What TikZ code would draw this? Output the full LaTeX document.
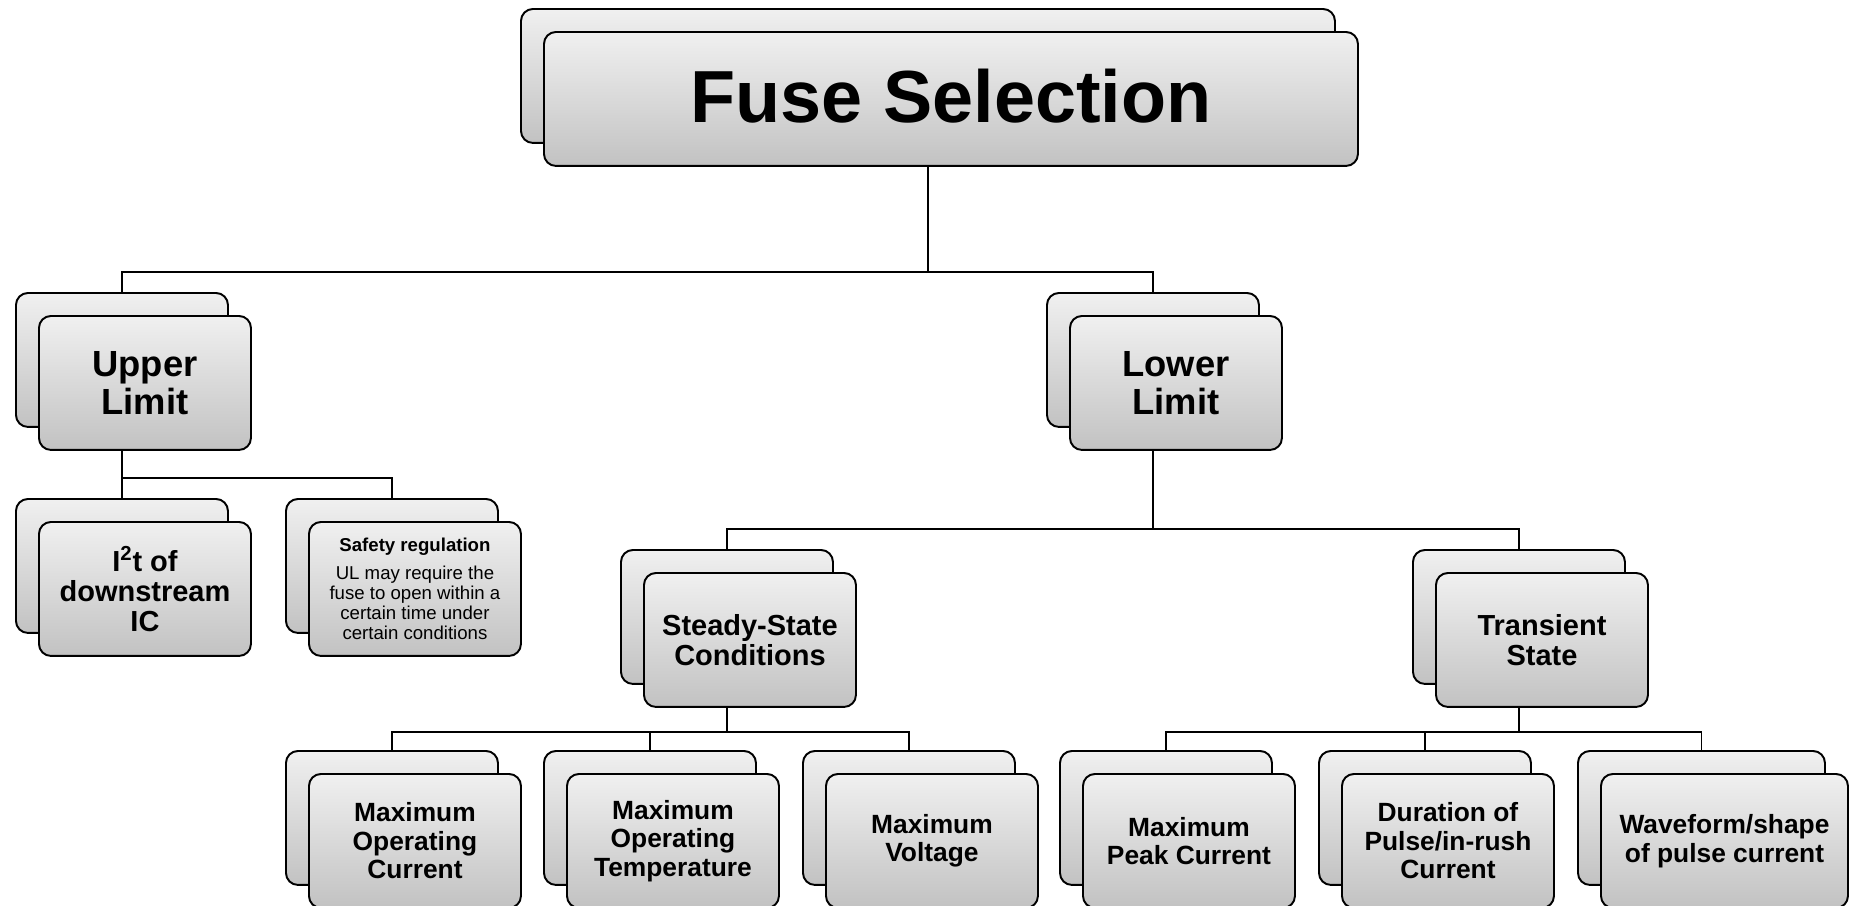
\documentclass[tikz,border=0pt]{standalone}
\usepackage{fontspec}
\setmainfont{Liberation Sans}
\usetikzlibrary{backgrounds}
\definecolor{cardtop}{HTML}{F0F0F0}
\definecolor{cardbot}{HTML}{C2C2C2}
\newcommand{\FBIG}{\fontsize{42}{46}\selectfont\bfseries}
\newcommand{\FMID}{\fontsize{20.7}{21.8}\selectfont\bfseries}
\newcommand{\FSUB}{\fontsize{16.5}{17.2}\selectfont\bfseries}
\newcommand{\FLEAF}{\fontsize{15}{16.2}\selectfont\bfseries}
\newcommand{\FSMALL}{\fontsize{10.6}{11.5}\selectfont}
\tikzset{
  card/.style={draw=black, line width=1.1pt, rounded corners=0.24cm,
    top color=cardtop, bottom color=cardbot, minimum height=2.68cm,
    inner sep=0pt, anchor=north west, align=center},
  wire/.style={line width=1.1pt}
}
% #1 name, #2 x, #3 y, #4 width, #5 font, #6 text
\newcommand{\CARD}[6]{%
  \node[card, minimum width={#4*0.02cm}] (#1B) at (#2,#3) {};
  \node[card, minimum width={#4*0.02cm}, font={#5}] (#1) at ([shift={(23,23)}]#2,#3) {#6};
}
\begin{document}
\begin{tikzpicture}[x=0.02cm, y=-0.02cm]
    \useasboundingbox (0,0) rectangle (1854,906);

    \CARD{top}{520}{8}{814}{\FBIG}{\raisebox{4pt}{Fuse Selection}}

    \CARD{up}{15}{292}{212}{\FMID}{Upper\\Limit}
    \CARD{low}{1046}{292}{212}{\FMID}{Lower\\Limit}

    \CARD{itwo}{15}{498}{212}{\FSUB}{I\textsuperscript{2}t of\\downstream\\IC}
    \CARD{safe}{285}{498}{212}{\FSMALL}{{\bfseries Safety regulation}\\[4.5pt]UL may require the\\fuse to open within a\\certain time under\\certain conditions}

    \CARD{steady}{620}{549}{212}{\FSUB}{Steady-State\\Conditions}
    \CARD{trans}{1412}{549}{212}{\FSUB}{Transient\\State}

    \CARD{opcur}{285}{750}{212}{\FLEAF}{Maximum\\Operating\\Current}
    \CARD{optemp}{543}{750}{212}{\FLEAF}{Maximum\\Operating\\Temperature}
    \CARD{volt}{802}{750}{212}{\FLEAF}{Maximum\\Voltage}
    \CARD{peak}{1059}{750}{212}{\FLEAF}{Maximum\\Peak Current}
    \CARD{dur}{1318}{750}{212}{\FLEAF}{Duration of\\Pulse/in-rush\\Current}
    \CARD{wave}{1577}{750}{247}{\FLEAF}{Waveform/shape\\of pulse current}

    \coordinate (busA) at (0,272);
    \coordinate (busB) at (0,478);
    \coordinate (busC) at (0,529);
    \coordinate (busD) at (0,732);

    \begin{pgfonlayer}{background}
    \draw[wire] (topB.center) -- (topB.center |- busA) -| (upB.north);
    \draw[wire] (topB.center |- busA) -| (lowB.north);

    \draw[wire] (upB.center) -- (upB.center |- busB) -| (itwoB.north);
    \draw[wire] (upB.center |- busB) -| (safeB.north);

    \draw[wire] (lowB.center) -- (lowB.center |- busC) -| (steadyB.north);
    \draw[wire] (lowB.center |- busC) -| (transB.north);

    \draw[wire] (steadyB.center) -- (steadyB.center |- busD) -| (opcurB.north);
    \draw[wire] (steadyB.center |- busD) -| (optempB.north);
    \draw[wire] (steadyB.center |- busD) -| (voltB.north);

    \draw[wire] (transB.center) -- (transB.center |- busD) -| (peakB.north);
    \draw[wire] (transB.center |- busD) -| (durB.north);
    \draw[wire] (transB.center |- busD) -| (waveB.north);
    \end{pgfonlayer}
\end{tikzpicture}
\end{document}
